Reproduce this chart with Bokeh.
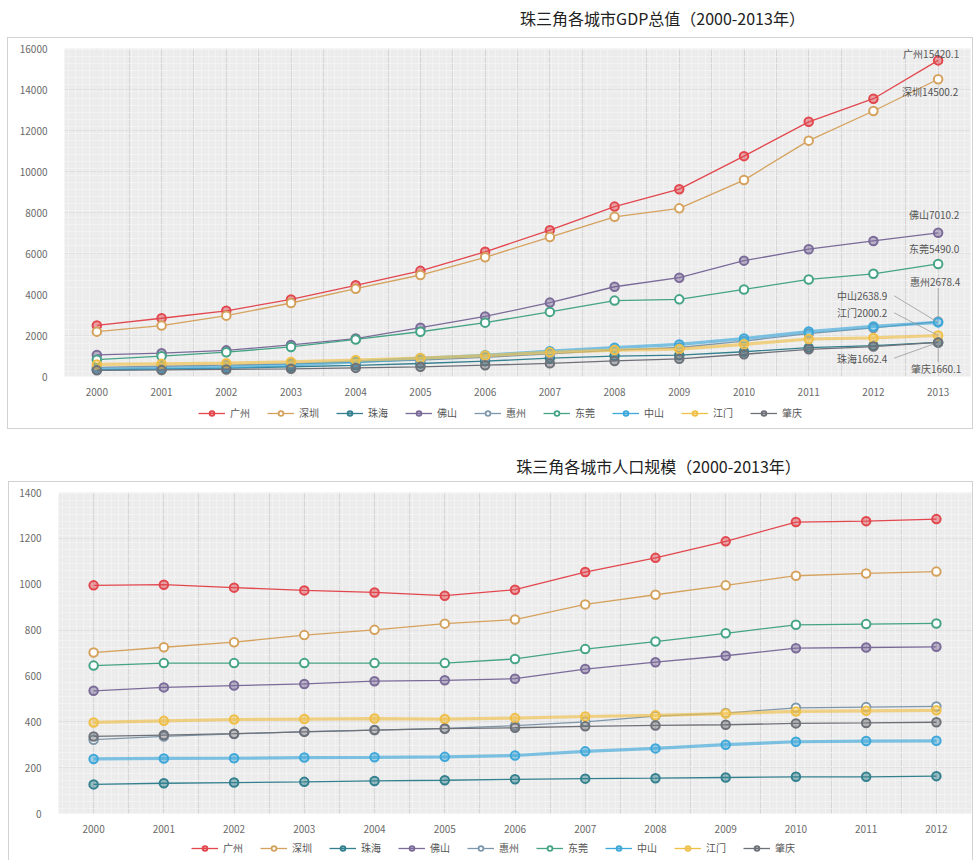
from bokeh.plotting import figure
from bokeh.layouts import column
from bokeh.models import (FixedTicker, BoxAnnotation, Legend, LegendItem,
                          ColumnDataSource, Range1d)
from bokeh.embed import file_html
from bokeh.resources import INLINE
from bokeh.core.properties import value

FONT = "Noto Sans CJK SC"

# ---------------- data ----------------
cities = ["广州", "深圳", "珠海", "佛山", "惠州", "东莞", "中山", "江门", "肇庆"]

gdp_years = [2000, 2001, 2002, 2003, 2004, 2005, 2006, 2007, 2008, 2009, 2010, 2011, 2012, 2013]
pop_years = [2000, 2001, 2002, 2003, 2004, 2005, 2006, 2007, 2008, 2009, 2010, 2011, 2012]

# GDP (亿元)
gdp_guangzhou = [2492.7, 2841.7, 3204.0, 3758.6, 4450.6, 5154.2, 6081.9, 7140.3, 8287.4, 9138.2, 10748.3, 12423.4, 13551.2, 15420.1]
gdp_shenzhen = [2187.5, 2482.5, 2969.5, 3585.7, 4282.1, 4950.9, 5813.6, 6801.6, 7786.8, 8201.3, 9581.5, 11505.5, 12950.1, 14500.2]
gdp_zhuhai = [330, 365, 410, 475, 545, 635, 750, 895, 997, 1038, 1208, 1410, 1503, 1662.4]
gdp_foshan = [1050, 1140, 1275, 1540, 1850, 2383, 2928, 3605, 4378, 4821, 5651, 6210, 6613, 7010.2]
gdp_huizhou = [450, 500, 555, 620, 700, 803, 936, 1105, 1290, 1415, 1730, 2093, 2368, 2678.4]
gdp_dongguan = [820, 993, 1186, 1443, 1806, 2183, 2627, 3151, 3702, 3764, 4246, 4735, 5010, 5490.0]
gdp_zhongshan = [345, 398, 461, 564, 713, 887, 1036, 1238, 1408, 1566, 1851, 2193, 2441, 2638.9]
gdp_jiangmen = [590, 620, 650, 710, 800, 900, 1020, 1178, 1290, 1340, 1570, 1830, 1880, 2000.2]
gdp_zhaoqing = [300, 320, 345, 375, 420, 470, 550, 640, 760, 862, 1085, 1324, 1462, 1660.1]

# 常住人口 (万人)
pop_guangzhou = [995, 998, 985, 973, 964, 950, 976, 1053, 1115, 1187, 1271, 1275, 1284]
pop_shenzhen = [702, 725, 747, 778, 801, 828, 846, 912, 954, 995, 1037, 1047, 1055]
pop_zhuhai = [127, 132, 135, 138, 142, 145, 149, 152, 154, 157, 160, 160, 163]
pop_foshan = [535, 550, 558, 565, 577, 581, 588, 630, 660, 688, 721, 724, 727]
pop_huizhou = [322, 336, 347, 357, 364, 371, 383, 400, 425, 438, 461, 464, 467]
pop_dongguan = [645, 656, 656, 656, 656, 656, 674, 717, 750, 786, 823, 826, 829]
pop_zhongshan = [238, 240, 241, 244, 245, 247, 253, 271, 284, 300, 313, 316, 317]
pop_jiangmen = [397, 404, 410, 412, 414, 412, 416, 423, 428, 436, 445, 448, 450]
pop_zhaoqing = [336, 342, 348, 356, 364, 370, 374, 380, 384, 387, 393, 395, 398]

gdp_series = [gdp_guangzhou, gdp_shenzhen, gdp_zhuhai, gdp_foshan, gdp_huizhou,
              gdp_dongguan, gdp_zhongshan, gdp_jiangmen, gdp_zhaoqing]
pop_series = [pop_guangzhou, pop_shenzhen, pop_zhuhai, pop_foshan, pop_huizhou,
              pop_dongguan, pop_zhongshan, pop_jiangmen, pop_zhaoqing]

gdp_ticks = [0, 2000, 4000, 6000, 8000, 10000, 12000, 14000, 16000]
pop_ticks = [0, 200, 400, 600, 800, 1000, 1200, 1400]

# ---------------- styles ----------------
colors = {
    "广州": "#e2474e", "深圳": "#d5a25e", "珠海": "#33808f", "佛山": "#7b6b99",
    "惠州": "#7f97ab", "东莞": "#45a386", "中山": "#3ea8da", "江门": "#f0bf48",
    "肇庆": "#6e7178",
}
solid_marker = {"广州", "珠海", "佛山", "中山", "肇庆", "江门"}
thick_line = {"中山", "江门"}

BOX = "1px solid #d2d2d2"

# end-of-line value labels on the GDP chart: (dx, dy) in pixels, leader line end (dx, dy)
end_labels = {
    "广州": ((-7, -7), None),
    "深圳": ((-8, 12), None),
    "佛山": ((-4, -18), None),
    "东莞": ((-4, -15), None),
    "惠州": ((-3, -40), (0, -34)),
    "中山": ((-76, -27), (-44, -27)),
    "江门": ((-76, -23), (-44, -23)),
    "珠海": ((-76, 16), (-44, 16)),
    "肇庆": ((-2, 26), (0, 20)),
}


def series_style(city, legend=False):
    c = colors[city]
    thick = city in thick_line and not legend
    line = dict(line_color=c,
                line_width=3.2 if thick else 1.3,
                line_alpha=0.65 if thick else 1.0)
    marker = dict(marker="circle", size=7 if legend else 8.5, line_color=c,
                  line_width=1.8 if legend else 2,
                  fill_color=c if city in solid_marker else "white",
                  fill_alpha=0.45 if city in solid_marker else 1.0)
    return line, marker


def bare_figure(width, height, x_range, y_range):
    p = figure(width=width, height=height, output_backend="svg", toolbar_location=None,
               x_range=x_range, y_range=y_range, min_border=0,
               x_axis_location=None, y_axis_location=None,
               outline_line_color=None, background_fill_color="white",
               border_fill_color="white")
    p.grid.visible = False
    return p


def title_block(text, height, cx, cy):
    p = bare_figure(977, height, Range1d(0, 977), Range1d(height, 0))
    p.text(x=[cx], y=[cy], text=[text], text_font=value(FONT), text_font_size="16px",
           text_color="#222222", text_align="center", text_baseline="middle")
    return p


def legend_block(width, height, loc):
    # legend strip: one off-screen point per city gives the legend its swatches
    p = bare_figure(width, height, Range1d(0, 1), Range1d(0, 1))
    items = []
    for city in cities:
        line, marker = series_style(city, legend=True)
        src = ColumnDataSource(dict(x=[-5], y=[-5]))
        lr = p.line("x", "y", source=src, **line)
        sr = p.scatter("x", "y", source=src, **marker)
        items.append(LegendItem(label=city, renderers=[lr, sr]))
    legend = Legend(items=items, orientation="horizontal", location=loc,
                    glyph_width=27, glyph_height=12, label_standoff=5, spacing=17,
                    padding=4, margin=0, border_line_color=None,
                    background_fill_alpha=0, label_text_font=FONT,
                    label_text_font_size="10px", label_text_color="#555555",
                    label_height=12)
    p.add_layout(legend)
    return p


def chart(years, series, y_max, y_ticks, width, height, borders, with_labels):
    left, right, top, bottom = borders
    p = figure(width=width, height=height, output_backend="svg", toolbar_location=None,
               x_range=(years[0] - 0.5, years[-1] + 0.5), y_range=(0, y_max),
               min_border_left=left, min_border_right=right,
               min_border_top=top, min_border_bottom=bottom,
               background_fill_color="#ececec", border_fill_color="white",
               outline_line_color=None)

    # light woven texture on the plotting area
    p.add_layout(BoxAnnotation(fill_alpha=0, line_color=None,
                               hatch_pattern="+", hatch_color="#f6f6f6",
                               hatch_alpha=0.6, hatch_scale=7, hatch_weight=1,
                               level="underlay"))

    minor = [y - 0.5 for y in years] + [years[-1] + 0.5]
    p.xaxis.ticker = FixedTicker(ticks=years, minor_ticks=minor)
    p.yaxis.ticker = FixedTicker(ticks=y_ticks)
    for ax in (p.xaxis, p.yaxis):
        ax.axis_line_color = None
        ax.major_tick_line_color = None
        ax.minor_tick_line_color = None
        ax.major_label_text_font = FONT
        ax.major_label_text_font_size = "10px"
        ax.major_label_text_color = "#6a6a6a"
    p.xaxis.major_label_standoff = 5
    p.yaxis.major_label_standoff = 11

    p.xgrid.grid_line_color = "#d6d6d6"
    p.xgrid.minor_grid_line_color = "#d6d6d6"
    p.ygrid.grid_line_color = "#e0e0e0"

    fw = width - left - right
    fh = height - top - bottom
    x_per_px = (years[-1] - years[0] + 1) / fw
    y_per_px = y_max / fh

    for city, vals in zip(cities, series):
        line, marker = series_style(city)
        src = ColumnDataSource(dict(year=years, v=vals))
        p.line("year", "v", source=src, **line)
        p.scatter("year", "v", source=src, **marker)

        if with_labels:
            (dx, dy), lead = end_labels[city]
            last = vals[-1]
            if lead is not None:
                p.segment(x0=[years[-1]], y0=[last],
                          x1=[years[-1] + lead[0] * x_per_px],
                          y1=[last - lead[1] * y_per_px],
                          line_color="#9a9a9a", line_width=0.8)
            p.text(x=[years[-1]], y=[last], text=[f"{city}{last:.1f}"],
                   x_offset=dx, y_offset=dy, text_font=value(FONT),
                   text_font_size="10px", text_color="#555555",
                   text_align="center", text_baseline="middle")
    return p


# GDP chart
gdp_title = title_block("珠三角各城市GDP总值（2000-2013年）", 37, 662, 17)
gdp_chart = chart(gdp_years, gdp_series, 16000, gdp_ticks, 964, 360, (56, 2, 10, 17), True)
gdp_legend = legend_block(964, 30, (134, 8))
gdp_box = column(gdp_chart, gdp_legend, spacing=0, margin=(0, 0, 0, 7),
                 styles={"border": BOX})

# population chart
pop_title = title_block("珠三角各城市人口规模（2000-2013年）", 52, 658, 36)
pop_chart = chart(pop_years, pop_series, 1400, pop_ticks, 963, 353, (49, 1, 10, 17), False)
pop_legend = legend_block(963, 25, (133, 5))
pop_box = column(pop_chart, pop_legend, spacing=0, margin=(0, 0, 0, 8),
                 styles={"border": BOX, "border-bottom": "none"})

layout = column(gdp_title, gdp_box, pop_title, pop_box, spacing=0)
open("out.html", "w").write(file_html(layout, INLINE))
